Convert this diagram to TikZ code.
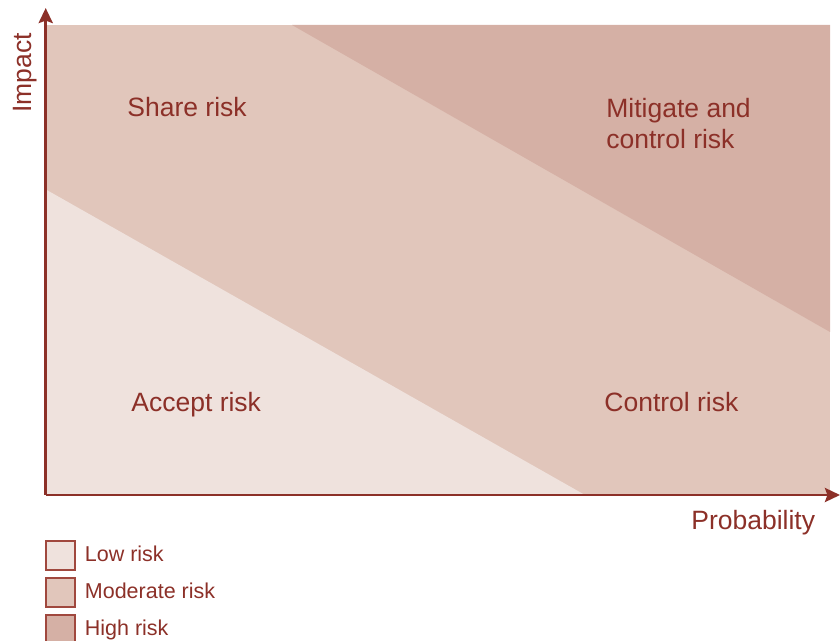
\documentclass[tikz,border=0pt]{standalone}
\usepackage{fontspec}
\setmainfont{Liberation Sans}
\usetikzlibrary{arrows.meta}

\definecolor{riskred}{RGB}{140,48,40}
\definecolor{lowfill}{RGB}{239,226,221}
\definecolor{modfill}{RGB}{225,198,187}
\definecolor{highfill}{RGB}{213,176,165}
\definecolor{keyedge}{RGB}{160,72,62}

\tikzset{
  axisline/.style={draw=riskred, line width=1.45pt,
    -{Stealth[length=7.5pt,width=7pt,inset=1.2pt]}},
  zonelabel/.style={text=riskred, font=\fontsize{13.25}{15.5}\selectfont,
    anchor=base west, inner sep=0pt, align=left},
  keybox/.style={draw=keyedge, line width=0.75pt, minimum width=14.5pt,
    minimum height=14.5pt, inner sep=0pt, anchor=north west},
  keylabel/.style={text=riskred, font=\fontsize{10.75}{12}\selectfont,
    anchor=base west, inner sep=0pt}
}

\begin{document}
\begin{tikzpicture}[x=0.5pt,y=-0.5pt]
  \useasboundingbox (0,0) rectangle (840,641);

  % risk bands
  \fill[modfill] (45,25) rectangle (830,495);
  \fill[highfill] (292,25) -- (830,25) -- (830,332) -- cycle;
  \fill[lowfill] (45,189) -- (585,495) -- (45,495) -- cycle;

  % axes
  \coordinate (origin) at (45.7,495);
  \coordinate (ytip) at (45.7,8);
  \coordinate (xtip) at (840,495);
  \draw[axisline] (origin) -- (ytip);
  \draw[axisline] (origin) -- (xtip);

  % axis titles
  \node[zonelabel, rotate=90] (impact) at (32,113) {Impact};
  \node[zonelabel] (prob) at (691,529) {Probability};

  % zone labels
  \node[zonelabel] (share) at (127,117) {Share risk};
  \node[zonelabel] (mitigate) at (606,118) {Mitigate and};
  \node[zonelabel] (mitigate2) at (606,149) {control risk};
  \node[zonelabel] (accept) at (131,411) {Accept risk};
  \node[zonelabel] (control) at (604,411) {Control risk};

  % key
  \node[keybox, fill=lowfill] (klow) at (45,540) {};
  \node[keybox, fill=modfill] (kmod) at (45,577) {};
  \node[keybox, fill=highfill] (khigh) at (45,614) {};
  \node[keylabel] (tlow) at (84.5,561) {Low risk};
  \node[keylabel] (tmod) at (84.5,598) {Moderate risk};
  \node[keylabel] (thigh) at (84.5,635) {High risk};
\end{tikzpicture}
\end{document}
